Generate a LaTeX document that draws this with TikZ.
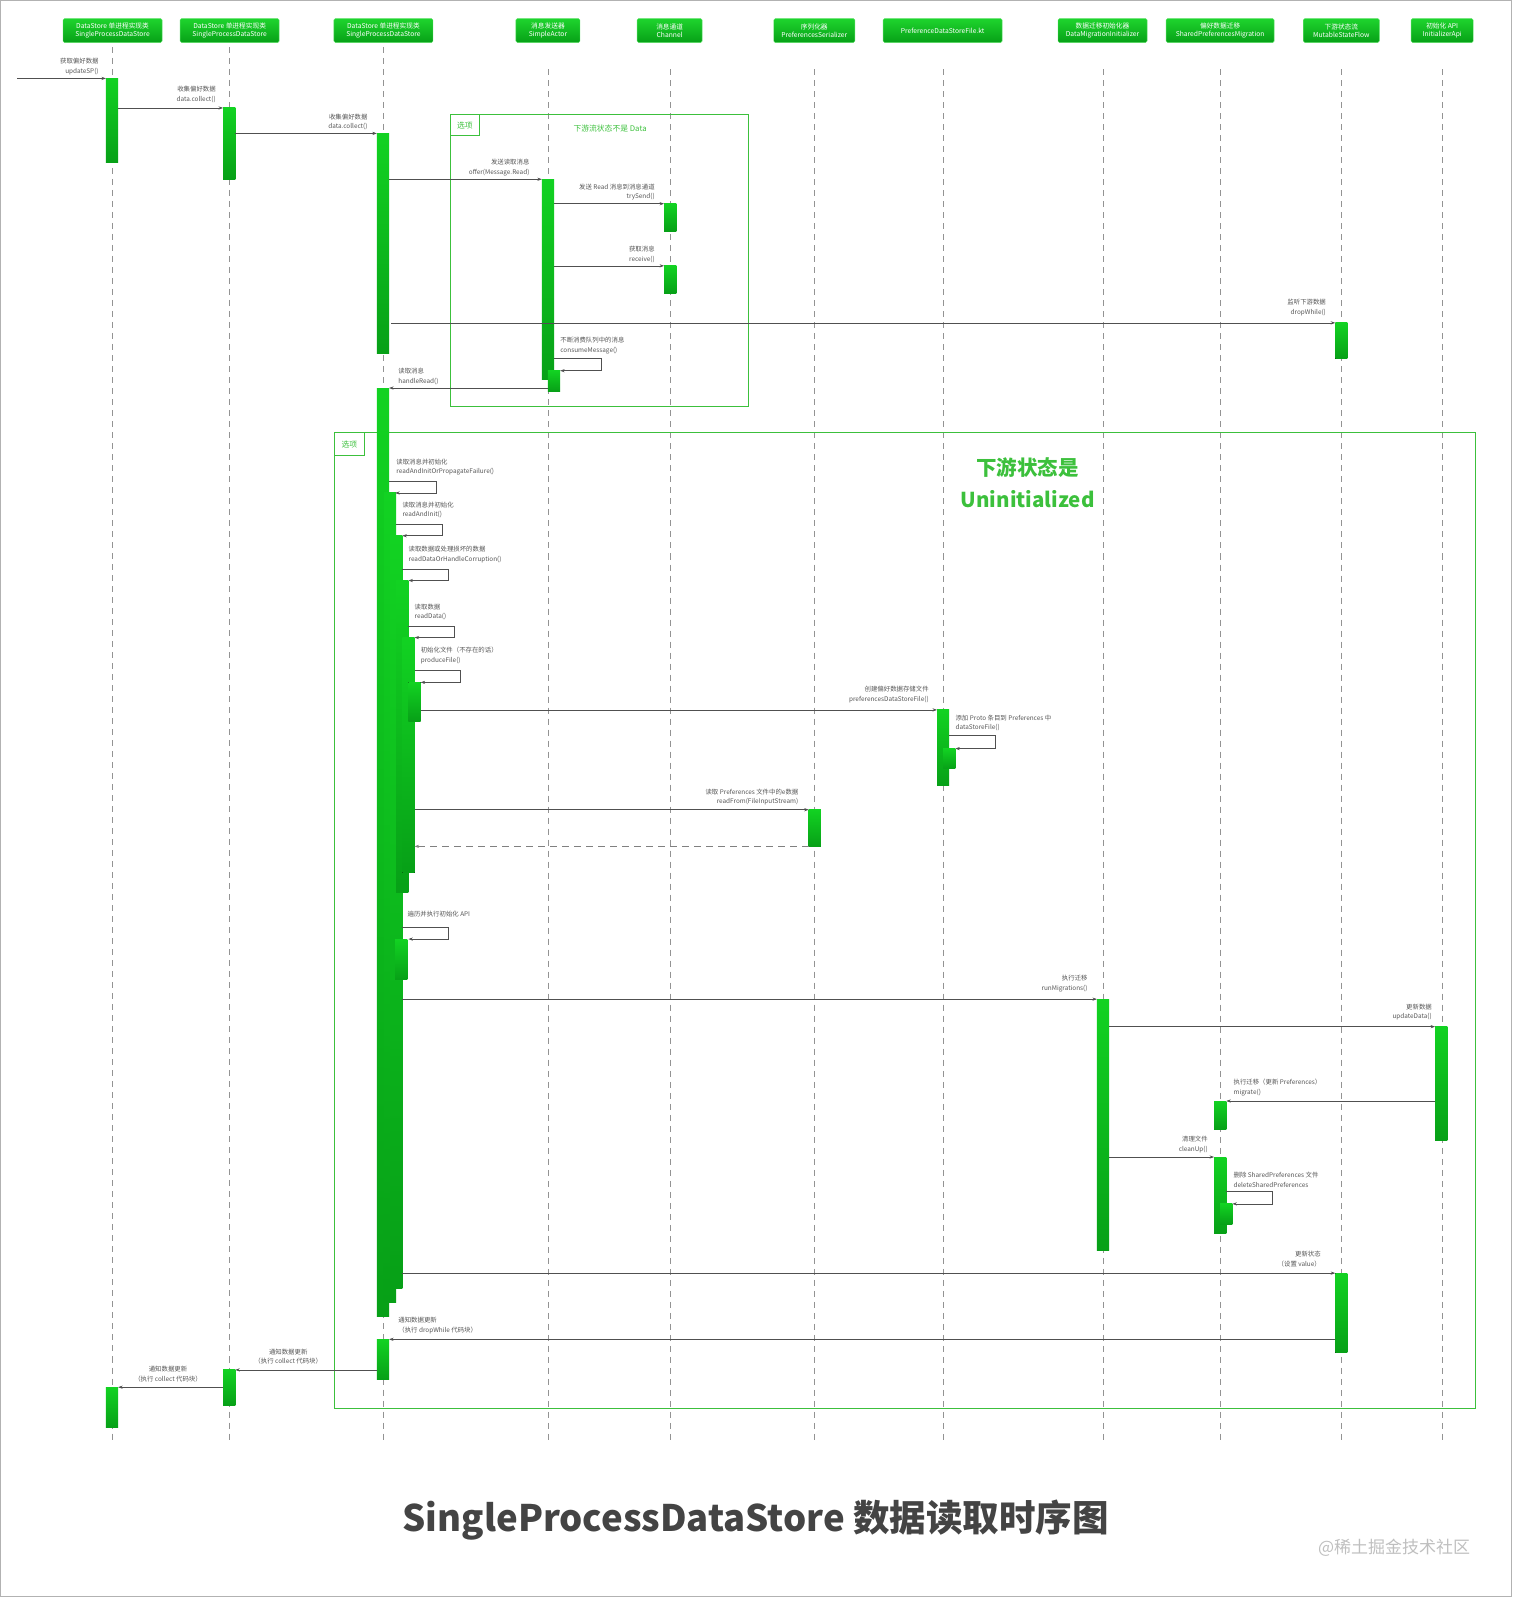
\documentclass[tikz,border=0pt]{standalone}
\usepackage{fontspec}
\setmainfont{Noto Sans CJK SC}
\usetikzlibrary{arrows.meta}
\definecolor{gA}{HTML}{12D222}
\definecolor{gB}{HTML}{07A017}
\definecolor{frm}{HTML}{3CC03C}
\definecolor{txt}{HTML}{555555}
\definecolor{ln}{HTML}{505050}
\newcommand\actbar[4]{\fill[top color=gA,bottom color=gB] (#1,#2) rectangle (#3,#4);}
\newcommand\selfloop[4]{\draw[msg] (#1,#2) -- (#3,#2) -- (#3,#4) -- (#1+6,#4);}
\tikzset{
  hdr/.style={draw=gA!70!white,top color=gA!95!white,bottom color=gB,rounded corners=1.5pt,text=white,font=\fontsize{6.7}{8.5}\selectfont,align=center,minimum height=24,inner sep=1pt},
  life/.style={draw=gray!85,line width=0.7pt,dash pattern=on 6pt off 5pt},
  msg/.style={draw=ln,line width=0.6pt,-{Stealth[length=4.5pt,width=3.2pt]}},
  ret/.style={draw=gray,line width=0.8pt,dash pattern=on 7pt off 5pt,-{Stealth[length=4.5pt,width=3.2pt]}},
  lbl/.style={text=txt,font=\fontsize{6.4}{9.8}\selectfont,inner sep=0pt},
  frame/.style={draw=frm,line width=0.9pt},
}
\begin{document}
\begin{tikzpicture}[x=1.018pt,y=-1.018pt]
\useasboundingbox (0,0) rectangle (1485,1568);
\draw[gray!60,line width=1pt] (0.5,0.5) rectangle (1484.5,1567.5);
% headers
\node[hdr,minimum width=99] (h1) at (110.5,30) {DataStore 单进程实现类\\SingleProcessDataStore};
\node[hdr,minimum width=99] (h2) at (225.5,30) {DataStore 单进程实现类\\SingleProcessDataStore};
\node[hdr,minimum width=99] (h3) at (376.5,30) {DataStore 单进程实现类\\SingleProcessDataStore};
\node[hdr,minimum width=64] (h4) at (538,30) {消息发送器\\SimpleActor};
\node[hdr,minimum width=65] (h5) at (657.5,30) {消息通道\\Channel};
\node[hdr,minimum width=81] (h6) at (799.5,30) {序列化器\\PreferencesSerializer};
\node[hdr,minimum width=119] (h7) at (925.5,30) {PreferenceDataStoreFile.kt};
\node[hdr,minimum width=89] (h8) at (1082.5,30) {数据迁移初始化器\\DataMigrationInitializer};
\node[hdr,minimum width=108] (h9) at (1198,30) {偏好数据迁移\\SharedPreferencesMigration};
\node[hdr,minimum width=76] (h10) at (1317,30) {下游状态流\\MutableStateFlow};
\node[hdr,minimum width=62] (h11) at (1416,30) {初始化 API\\InitializerApi};
% lifelines
\foreach \x/\s in {110/46,225/46,376/46,538/68,658/68,800/68,926/68,1083/68,1198/68,1317/68,1416/68}
  \draw[life] (\x,\s) -- (\x,1418);
% frames
\draw[frame] (442,112) rectangle (735,399);
\draw[frame] (442,112) rectangle (471,133);
\node[text=frm,font=\fontsize{7.8}{9}\selectfont] (t1) at (456.5,123) {选项};
\node[text=frm,font=\fontsize{7.8}{9}\selectfont] (t1b) at (599,126) {下游流状态不是 Data};
\draw[frame] (328,425) rectangle (1449,1383);
\draw[frame] (328,425) rectangle (358,447);
\node[text=frm,font=\fontsize{7.8}{9}\selectfont] (t2) at (343,436) {选项};
\node[text=frm,font=\bfseries\fontsize{20.5}{32}\selectfont,align=center] (t2b) at (1009,474) {下游状态是\\Uninitialized};
% bars
\actbar{104}{77}{116}{160}
\actbar{219}{106}{231}{176}
\actbar{370}{131}{382}{347}
\actbar{532}{176}{544}{373}
\actbar{538}{364}{550}{384}
\actbar{652}{200}{664}{227}
\actbar{652}{261}{664}{288}
\actbar{1311}{317}{1323}{352}
\actbar{370}{381}{382}{1293}
\actbar{377}{484}{389}{1279}
\actbar{383}{526}{395}{1265}
\actbar{389}{570}{401}{876}
\actbar{395}{626}{407}{857}
\actbar{401}{670}{413}{708}
\actbar{920}{697}{932}{771}
\actbar{926}{735}{938}{755}
\actbar{794}{795}{806}{831}
\actbar{388}{922}{400}{962}
\actbar{1077}{981}{1089}{1228}
\actbar{1409}{1008}{1421}{1120}
\actbar{1192}{1081}{1204}{1109}
\actbar{1192}{1136}{1204}{1211}
\actbar{1198}{1182}{1210}{1202}
\actbar{1311}{1250}{1323}{1328}
\actbar{370}{1315}{382}{1354}
\actbar{219}{1345}{231}{1380}
\actbar{104}{1362}{116}{1402}
% messages
\draw[msg] (17,77) -- (104,77);
\node[lbl,anchor=south east,align=right] at (97,74) {获取偏好数据\\updateSP()};
\draw[msg] (116,106) -- (219,106);
\node[lbl,anchor=south east,align=right] at (212,101) {收集偏好数据\\data.collect()};
\draw[msg] (231,131) -- (370,131);
\node[lbl,anchor=south east,align=right] at (361,128) {收集偏好数据\\data.collect()};
\draw[msg] (382,176) -- (532,176);
\node[lbl,anchor=south east,align=right] at (520,173) {发送读取消息\\offer(Message.Read)};
\draw[msg] (544,200) -- (652,200);
\node[lbl,anchor=south east,align=right] at (643,197) {发送 Read 消息到消息通道\\trySend()};
\draw[msg] (544,261) -- (652,261);
\node[lbl,anchor=south east,align=right] at (643,258) {获取消息\\receive()};
\draw[msg] (384,317) -- (1311,317);
\node[lbl,anchor=south east,align=right] at (1302,310) {监听下游数据\\dropWhile()};
\selfloop{544}{352}{590}{364}
\node[lbl,anchor=south west,align=left] at (550,348) {不断消费队列中的消息\\consumeMessage()};
\draw[msg] (538,381) -- (382,381);
\node[lbl,anchor=south west,align=left] at (391,378) {读取消息\\handleRead()};
\selfloop{382}{473}{428}{484}
\node[lbl,anchor=south west,align=left] at (389,467) {读取消息并初始化\\readAndInitOrPropagateFailure()};
\selfloop{389}{515}{434}{526}
\node[lbl,anchor=south west,align=left] at (395,509) {读取消息并初始化\\readAndInit()};
\selfloop{395}{559}{440}{570}
\node[lbl,anchor=south west,align=left] at (401,553) {读取数据或处理损坏的数据\\readDataOrHandleCorruption()};
\selfloop{401}{615}{446}{626}
\node[lbl,anchor=south west,align=left] at (407,609) {读取数据\\readData()};
\selfloop{407}{658}{452}{670}
\node[lbl,anchor=south west,align=left] at (413,652) {初始化文件（不存在的话）\\produceFile()};
\draw[msg] (413,697) -- (920,697);
\node[lbl,anchor=south east,align=right] at (912,690) {创建偏好数据存储文件\\preferencesDataStoreFile()};
\selfloop{932}{722}{977}{735}
\node[lbl,anchor=south west,align=left] at (938,718) {添加 Proto 条目到 Preferences 中\\dataStoreFile()};
\draw[msg] (407,795) -- (794,795);
\node[lbl,anchor=south east,align=right] at (784,791) {读取 Preferences 文件中的e数据\\readFrom(FileInputStream)};
\draw[ret] (794,831) -- (407,831);
\selfloop{395}{910}{440}{922}
\node[lbl,anchor=south west,align=left] at (400,901) {遍历并执行初始化 API};
\draw[msg] (395,981) -- (1077,981);
\node[lbl,anchor=south east,align=right] at (1068,974) {执行迁移\\runMigrations()};
\draw[msg] (1089,1008) -- (1409,1008);
\node[lbl,anchor=south east,align=right] at (1406,1002) {更新数据\\updateData()};
\draw[msg] (1409,1081) -- (1204,1081);
\node[lbl,anchor=south west,align=left] at (1211,1076) {执行迁移（更新 Preferences）\\migrate()};
\draw[msg] (1089,1136) -- (1192,1136);
\node[lbl,anchor=south east,align=right] at (1186,1132) {清理文件\\cleanUp()};
\selfloop{1204}{1170}{1249}{1182}
\node[lbl,anchor=south west,align=left] at (1211,1166) {删除 SharedPreferences 文件\\deleteSharedPreferences};
\draw[msg] (395,1250) -- (1311,1250);
\node[lbl,anchor=south east,align=right] at (1297,1244) {更新状态\\（设置 value）};
\draw[msg] (1311,1315) -- (382,1315);
\node[lbl,anchor=south west,align=left] at (391,1310) {通知数据更新\\（执行 dropWhile 代码块）};
\draw[msg] (370,1345) -- (231,1345);
\node[lbl,anchor=south,align=center] at (283,1340) {通知数据更新\\（执行 collect 代码块）};
\draw[msg] (219,1362) -- (116,1362);
\node[lbl,anchor=south,align=center] at (165,1357) {通知数据更新\\（执行 collect 代码块）};
% title
\node[text=ln!85!black,font=\bfseries\fontsize{36.5}{42}\selectfont] (title) at (742,1492) {SingleProcessDataStore 数据读取时序图};
\node[text=gray!50,font=\fontsize{17}{20}\selectfont,anchor=east] (wm) at (1447,1520) {@稀土掘金技术社区};
\end{tikzpicture}
\end{document}
